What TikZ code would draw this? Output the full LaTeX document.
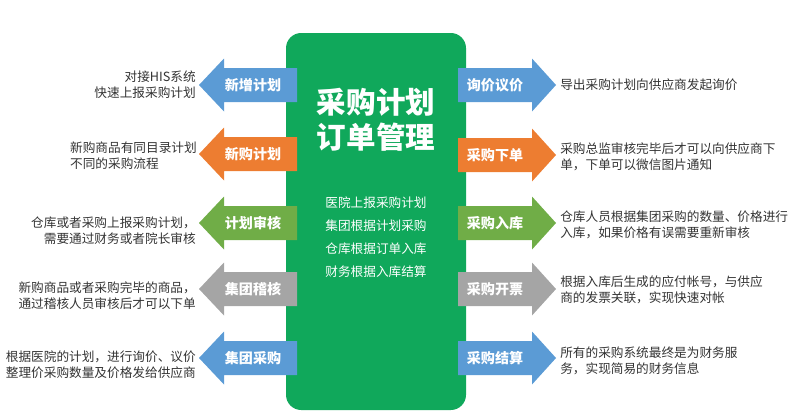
\documentclass[tikz,border=0pt]{standalone}
\usepackage{fontspec}
\setmainfont{Noto Sans CJK SC}
\usepackage{xcolor}
\definecolor{mainboxcolor}{HTML}{10A85B}
\definecolor{bluearrow}{HTML}{5B9BD5}
\definecolor{orangearrow}{HTML}{ED7D31}
\definecolor{greenarrow}{HTML}{70AD47}
\definecolor{grayarrow}{HTML}{A5A5A5}
\definecolor{desccolor}{HTML}{333333}
\usepackage{tikz}
\usetikzlibrary{positioning, calc}

\begin{document}
\begin{tikzpicture}[x=0.025cm, y=-0.025cm,
  tag/.style={white, inner sep=0pt, font=\fontsize{10}{12}\selectfont\bfseries},
  desc/.style={desccolor, inner sep=0pt, font=\fontsize{9}{11.4}\selectfont},
  sublist/.style={white, inner sep=0pt, align=center, font=\fontsize{9}{16.4}\selectfont}]
  \useasboundingbox (0,0) rectangle (800,414);
  % central box
  \fill[mainboxcolor, rounded corners=0.38cm] (286,33) rectangle (466,410);
  \node[white, inner sep=0pt, align=center, font=\fontsize{21}{25}\selectfont\bfseries] (title) at (376,119.5) {采购计划\\订单管理};
  \node[sublist] (steps) at (376,237.5) {医院上报采购计划\\集团根据计划采购\\仓库根据订单入库\\财务根据入库结算};
  % left arrows
  \fill[bluearrow] (199,85) -- (224,58.5) -- (224,68) -- (297,68) -- (297,102) -- (224,102) -- (224,111.5) -- cycle;
  \fill[orangearrow] (199,154) -- (224,127.5) -- (224,137) -- (297,137) -- (297,171) -- (224,171) -- (224,180.5) -- cycle;
  \fill[greenarrow] (199,223) -- (224,196.5) -- (224,206) -- (297,206) -- (297,240) -- (224,240) -- (224,249.5) -- cycle;
  \fill[grayarrow] (199,289) -- (224,262.5) -- (224,272) -- (297,272) -- (297,306) -- (224,306) -- (224,315.5) -- cycle;
  \fill[bluearrow] (199,358) -- (224,331.5) -- (224,341) -- (297,341) -- (297,375) -- (224,375) -- (224,384.5) -- cycle;
  \node[tag] (xinzeng) at (253,85) {新增计划};
  \node[tag] (xingou) at (253,154) {新购计划};
  \node[tag] (shenhe) at (253,223) {计划审核};
  \node[tag] (jihe) at (253,289) {集团稽核};
  \node[tag] (caigou) at (253,358) {集团采购};
  \node[desc, align=right, anchor=east] (xinzengtxt) at (196,85) {对接HIS系统\\快速上报采购计划};
  \node[desc, align=left, anchor=east] (xingoutxt) at (197,156) {新购商品有同目录计划\\不同的采购流程};
  \node[desc, align=right, anchor=east] (shenhetxt) at (196,231) {仓库或者采购上报采购计划，\\需要通过财务或者院长审核};
  \node[desc, align=right, anchor=east] (jihetxt) at (196,296) {新购商品或者采购完毕的商品，\\通过稽核人员审核后才可以下单};
  \node[desc, align=right, anchor=east] (caigoutxt) at (196,365) {根据医院的计划，进行询价、议价\\整理价采购数量及价格发给供应商};
  % right arrows
  \fill[bluearrow] (458,68) -- (532,68) -- (532,58.5) -- (556,85) -- (532,111.5) -- (532,102) -- (458,102) -- cycle;
  \fill[orangearrow] (458,138) -- (532,138) -- (532,128.5) -- (556,155) -- (532,181.5) -- (532,172) -- (458,172) -- cycle;
  \fill[greenarrow] (458,206) -- (532,206) -- (532,196.5) -- (556,223) -- (532,249.5) -- (532,240) -- (458,240) -- cycle;
  \fill[grayarrow] (458,272) -- (532,272) -- (532,262.5) -- (556,289) -- (532,315.5) -- (532,306) -- (458,306) -- cycle;
  \fill[bluearrow] (458,341) -- (532,341) -- (532,331.5) -- (556,358) -- (532,384.5) -- (532,375) -- (458,375) -- cycle;
  \node[tag] (xunjia) at (495,85) {询价议价};
  \node[tag] (xiadan) at (495,155) {采购下单};
  \node[tag] (ruku) at (495,223) {采购入库};
  \node[tag] (kaipiao) at (495,289) {采购开票};
  \node[tag] (jiesuan) at (495,358) {采购结算};
  \node[desc, align=left, anchor=west] (xunjiatxt) at (560,85) {导出采购计划向供应商发起询价};
  \node[desc, align=left, anchor=west] (xiadantxt) at (560,157) {采购总监审核完毕后才可以向供应商下\\单，下单可以微信图片通知};
  \node[desc, align=left, anchor=west] (rukutxt) at (560,224.5) {仓库人员根据集团采购的数量、价格进行\\入库，如果价格有误需要重新审核};
  \node[desc, align=left, anchor=west] (kaipiaotxt) at (560,289.5) {根据入库后生成的应付帐号，与供应\\商的发票关联，实现快速对帐};
  \node[desc, align=left, anchor=west] (jiesuantxt) at (560,361) {所有的采购系统最终是为财务服\\务，实现简易的财务信息};
\end{tikzpicture}
\end{document}
